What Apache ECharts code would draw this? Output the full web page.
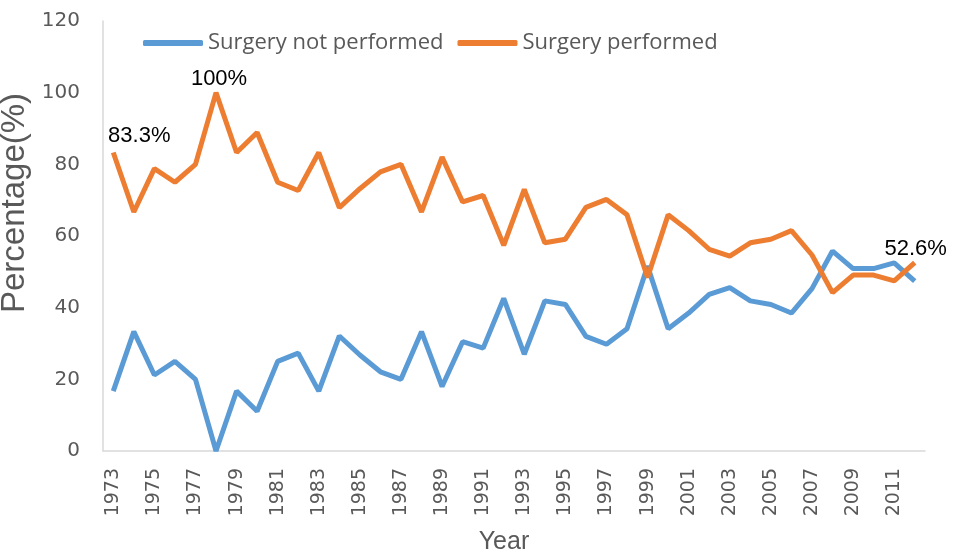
<!DOCTYPE html>
<html>
<head>
<meta charset="utf-8">
<script src="https://cdn.jsdelivr.net/npm/echarts@6/dist/echarts.min.js"></script>
<style>html,body{margin:0;padding:0;background:#fff}#c{width:957px;height:553px}</style>
</head>
<body>
<div id="c"></div>
<script>
var years = [];
for (var y = 1973; y <= 2012; y++) years.push(String(y));
var notPerformed = [16.7,33.3,21.2,25.0,20.0,0,16.7,11.1,25.0,27.3,16.7,32.1,26.8,22.1,20.0,33.3,18.0,30.5,28.7,42.6,
  27.0,41.9,40.9,32.0,29.8,34.1,51.6,34.1,38.5,43.7,45.6,41.9,40.9,38.5,45.3,55.8,50.9,50.9,52.5,47.4];
var performed = [83.3,66.7,78.8,75.0,80.0,100,83.3,88.9,75.0,72.7,83.3,67.9,73.2,77.9,80.0,66.7,82.0,69.5,71.3,57.4,
  73.0,58.1,59.1,68.0,70.2,65.9,48.4,65.9,61.5,56.3,54.4,58.1,59.1,61.5,54.7,44.2,49.1,49.1,47.5,52.6];
var labelText = {0:'83.3%', 5:'100%', 39:'52.6%'};
var labelOffset = {0:[26,2], 5:[3,5], 39:[1,5]};

var perfData = performed.map(function(v,i){
  if (labelText[i]) {
    return {value:v, label:{show:true, position:'top', offset:labelOffset[i], distance:8,
      formatter:labelText[i], color:'#000', fontSize:22, fontFamily:'Liberation Sans, Arial, sans-serif'}};
  }
  return v;
});

var chart = echarts.init(document.getElementById('c'));
chart.setOption({
  animation:false,
  grid:{left:103, right:32, top:21, bottom:102, containLabel:false, outerBoundsMode:'none'},
  legend:{
    top:27, left:138, itemGap:14, itemWidth:60, itemHeight:6,
    icon:'roundRect',
    textStyle:{color:'#595959', fontSize:22, fontFamily:'Open Sans, sans-serif'},
    data:['Surgery not performed','Surgery performed']
  },
  xAxis:{
    type:'category', data:years, boundaryGap:true,
    name:'Year', nameLocation:'middle', nameGap:79,
    nameTextStyle:{color:'#595959', fontSize:25, padding:[0,20,0,0], fontFamily:'Liberation Sans, Arial, sans-serif'},
    axisLine:{lineStyle:{color:'#d9d9d9', width:1.5}},
    axisTick:{show:false},
    axisLabel:{interval:1, rotate:90, color:'#595959', fontSize:19, margin:17, fontFamily:'DejaVu Sans, sans-serif'}
  },
  yAxis:{
    type:'value', min:0, max:120, interval:20,
    name:'Percentage(%)', nameLocation:'middle', nameGap:50,
    nameTextStyle:{color:'#595959', fontSize:33, padding:[0,0,0,66], fontFamily:'Liberation Sans, Arial, sans-serif'},
    axisLine:{show:true, lineStyle:{color:'#d9d9d9', width:1.5}},
    axisTick:{show:false},
    splitLine:{show:false},
    axisLabel:{color:'#595959', fontSize:20, margin:23, fontFamily:'DejaVu Sans, sans-serif'}
  },
  series:[
    {name:'Surgery not performed', type:'line', data:notPerformed, symbol:'none',
     lineStyle:{width:5, color:'#5B9BD5'}, itemStyle:{color:'#5B9BD5'}},
    {name:'Surgery performed', type:'line', data:perfData, symbol:'circle', symbolSize:0.01, showSymbol:true,
     lineStyle:{width:5, color:'#ED7D31'}, itemStyle:{color:'#ED7D31'}}
  ]
});
</script>
</body>
</html>
